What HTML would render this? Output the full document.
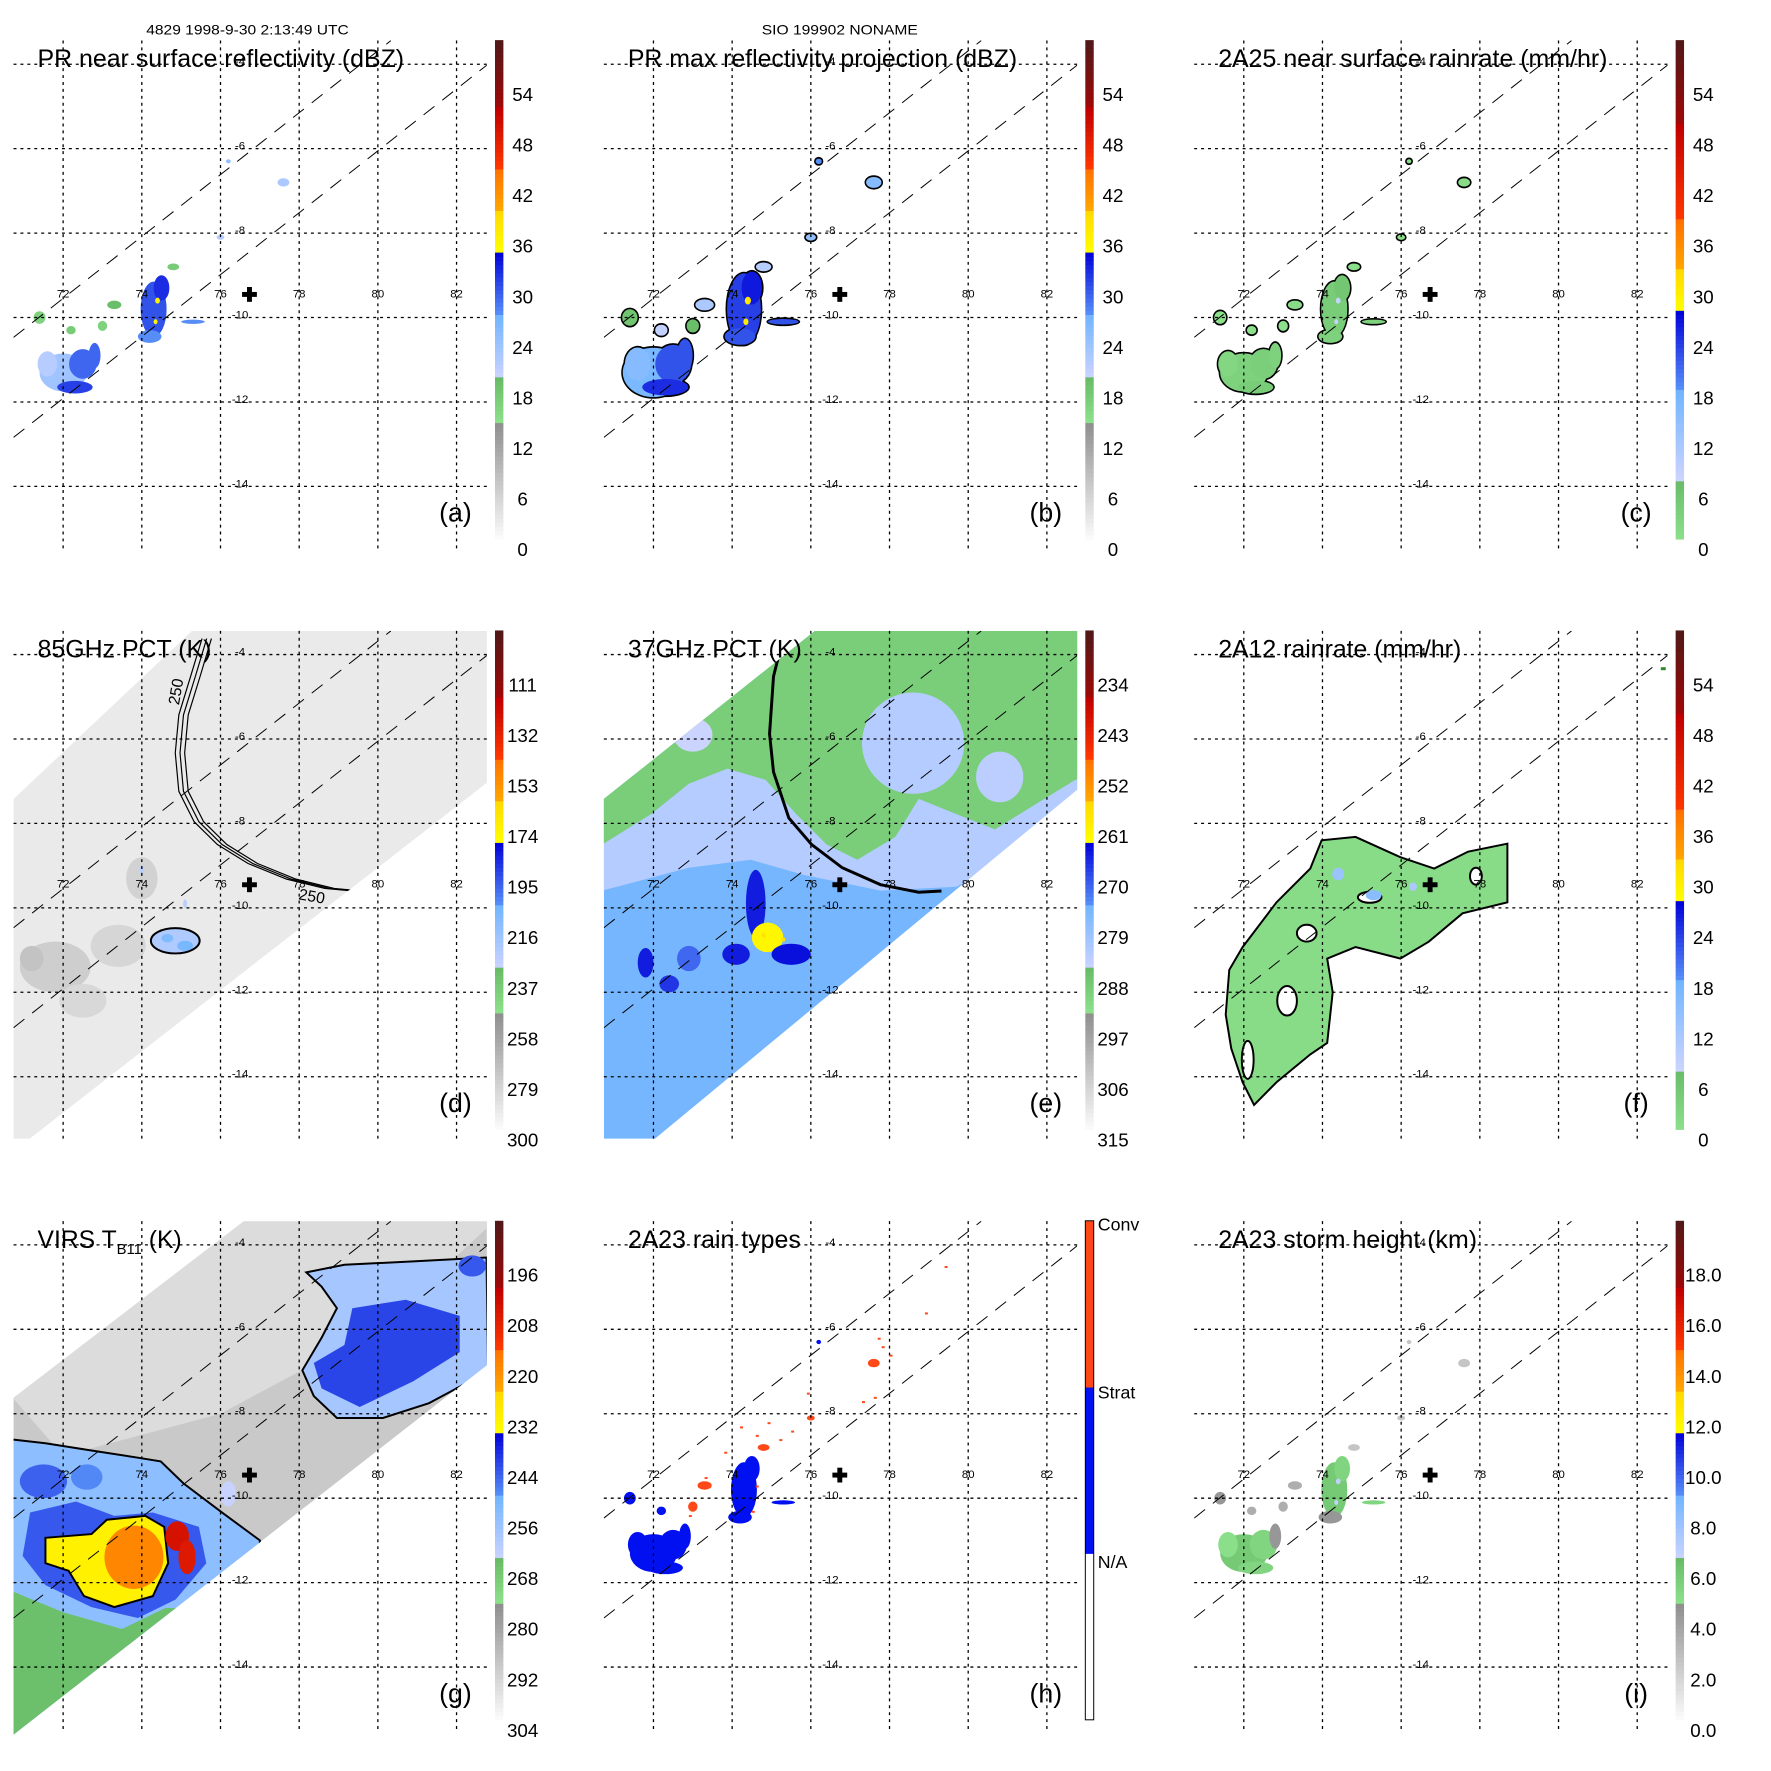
<!DOCTYPE html>
<html><head><meta charset="utf-8">
<style>
html,body{margin:0;padding:0;background:#fff;}
svg{display:block;font-family:"Liberation Sans",Arial,sans-serif;}
</style></head>
<body>
<svg id="fig" xmlns="http://www.w3.org/2000/svg" width="1771" height="1771" viewBox="0 0 1771 1771">
<rect x="0" y="0" width="1771" height="1771" fill="#fff"/>
<g id="root" transform="scale(0.988)">
<text x="148" y="35" font-size="14" textLength="205" lengthAdjust="spacingAndGlyphs">4829 1998-9-30 2:13:49 UTC</text>
<text x="771" y="35" font-size="14" textLength="158" lengthAdjust="spacingAndGlyphs">SIO 199902 NONAME</text>
</g>
</svg>
<script>
// ---------- axis ticks ----------
const lonTicks = [72, 74, 76, 78, 80, 82];
const latTicks = [-4, -6, -8, -10, -12, -14];
// ---------- PR rain cells (lon, lat, radius lon, radius lat) ----------
const prCells = [
 [72.0,-11.3,0.6,0.45],[72.5,-11.1,0.35,0.35],[71.6,-11.1,0.25,0.3],[72.3,-11.65,0.45,0.15],
 [72.8,-10.9,0.15,0.3],[74.3,-9.8,0.33,0.65],[74.5,-9.3,0.2,0.3],[74.2,-10.45,0.3,0.15],
 [74.4,-9.6,0.06,0.07],[74.35,-10.1,0.05,0.06],[73.0,-10.2,0.12,0.12],[73.3,-9.7,0.18,0.1],
 [72.2,-10.3,0.12,0.1],[74.8,-8.8,0.15,0.08],[75.3,-10.1,0.3,0.05],[76.0,-8.1,0.1,0.06],
 [77.6,-6.8,0.15,0.1],[76.2,-6.3,0.06,0.05],[71.4,-10.0,0.15,0.15]];
const valsA = [24,30,22,32,30,31,33,28,37,37,17,20,18,18,28,22,23,25,17];
const valsB = [27,31,26,33,31,32,34,31,38,38,20,23,21,22,31,25,26,28,19];
const valsC = [4,4.5,3,5,4,5,6,4,9,9,1,2,1,1,4,1,2,2,1];
const valsH = [1,1,1,1,1,1,1,1,1,1,2,2,1,2,1,2,2,1,1];
const valsI = [5.5,5,4.5,5,4,5.5,5,4,6.5,6.5,3,3,3,2,5,2,2,2,4];
const hSpecks = [[74.2,-8.3],[74.6,-8.5],[74.9,-8.2],[75.2,-8.6],[75.5,-8.4],[73.8,-8.9],[73.3,-9.5],[72.9,-10.4],
 [77.8,-6.4],[77.7,-6.2],[78.0,-6.6],[77.6,-7.6],[77.3,-7.7],[79.4,-4.5],[78.9,-5.6],[75.9,-7.5],[74.5,-10.3],[74.6,-9.7]];
// ---------- swaths ----------
const swathD = [[70.74,-7.42],[75.27,-3.44],[82.77,-3.44],[82.77,-7.04],[71.15,-15.47],[70.74,-15.47]];
const swathE = [[70.74,-7.42],[76.1,-3.44],[82.77,-3.44],[82.77,-7.2],[72.04,-15.47],[70.74,-15.47]];
const swathG = [[70.74,-7.62],[76.59,-3.44],[82.77,-3.44],[82.77,-6.85],[70.74,-15.6]];
const prUpper = [[70.74,-10.47],[80.33,-3.44]];
const prLower = [[70.74,-12.84],[82.77,-4.02]];
// ---------- 85 GHz ----------
const dBase = 296;
const dPatches = [[71.8,-11.4,0.9,0.6,283],[73.4,-10.9,0.7,0.5,287],[74.0,-9.3,0.4,0.5,285],[72.5,-12.2,0.6,0.4,288],[71.2,-11.2,0.3,0.3,278]];
const dRain = [[74.85,-10.78,0.62,0.3,226],[74.65,-10.72,0.15,0.1,212],[75.1,-10.9,0.2,0.12,210],[74.0,-9.1,0.05,0.1,230],[75.1,-9.9,0.05,0.1,230]];
const dContour = [[75.65,-3.62],[75.36,-4.52],[75.06,-5.43],[74.97,-6.33],[75.06,-7.24],[75.45,-7.96],[76.04,-8.5],[76.82,-8.95],[77.8,-9.32],[78.77,-9.54],[79.36,-9.59]];
// ---------- 37 GHz ----------
const eBase = 276;
const eLavender = [[70.7,-9.59],[72.9,-9.05],[74.47,-8.86],[75.83,-9.22],[77.77,-9.59],[79.7,-9.5],[81.65,-8.5],[83,-7.5],[83,-3],[70.7,-3]];
const eLavT = 284;
const eGreen = [[70.7,-8.5],[71.94,-7.78],[72.9,-7.06],[73.88,-6.7],[74.85,-6.97],[75.63,-7.78],[76.4,-8.5],[77.18,-8.86],[78.15,-8.32],[78.74,-7.42],[79.7,-7.78],[80.68,-8.14],[82.72,-6.97],[83,-6.9],[83,-3],[70.7,-3]];
const eGreenT = 291;
const eHoles = [[78.6,-6.1,1.3,1.2,284],[80.8,-6.9,0.6,0.6,285],[73.0,-5.9,0.5,0.4,287]];
const eCores = [[74.6,-9.9,0.25,0.8,266],[74.9,-10.7,0.4,0.35,262],[75.5,-11.1,0.5,0.25,265],[74.1,-11.1,0.35,0.25,266],
 [71.8,-11.3,0.2,0.35,266],[72.4,-11.8,0.25,0.2,268],[72.9,-11.2,0.3,0.3,272],[74.8,-10.65,0.05,0.05,258],[75.3,-10.75,0.05,0.05,258]];
const eContour = [[75.34,-3.44],[75.05,-4.52],[74.95,-5.88],[75.05,-6.78],[75.44,-7.87],[76.02,-8.5],[76.8,-9.05],[77.77,-9.45],[78.74,-9.63],[79.32,-9.6]];
// ---------- 2A12 ----------
const fRain = [[71.63,-11.47],[71.97,-10.93],[72.83,-9.87],[73.69,-9.07],[73.98,-8.4],[74.84,-8.32],[75.98,-8.8],[76.84,-9.07],[77.7,-8.67],[78.7,-8.48],[78.7,-9.87],[77.56,-10.13],[76.7,-10.8],[75.98,-11.2],[74.84,-10.93],[74.12,-11.2],[74.26,-12],[74.12,-13.2],[73.69,-13.47],[72.83,-14.13],[72.26,-14.67],[71.97,-14.13],[71.68,-13.33],[71.54,-12.53]];
const fRainVal = 2;
const fHoles = [[73.1,-12.2,0.25,0.35],[72.1,-13.6,0.15,0.45],[75.2,-9.75,0.3,0.13],[77.9,-9.25,0.15,0.2],[73.6,-10.6,0.25,0.2]];
const fSpots = [[74.4,-9.2,0.15,0.15,14],[75.3,-9.7,0.2,0.12,16],[76.3,-9.5,0.1,0.1,12]];
// ---------- VIRS ----------
const gBase = 293;
const gLight = [[70.7,-7.6],[76.6,-3.4],[83,-3.4],[80,-6],[76,-8],[72,-9]];
const gLightT = 298;
const gURouter = [[78.18,-4.65],[79.15,-4.47],[80.9,-4.39],[82.76,-4.3],[82.8,-7],[81.3,-7.75],[80.13,-8.1],[78.96,-8.1],[78.37,-7.58],[78.08,-6.97],[78.57,-6.2],[78.96,-5.5],[78.57,-4.99]];
const gURouterT = 260;
const gURcore = [[79.35,-5.5],[80.71,-5.3],[82.08,-5.68],[82.08,-6.54],[80.9,-7.23],[79.54,-7.84],[78.57,-7.4],[78.37,-6.8],[79.15,-6.37]];
const gURcoreT = 243;
const gLLouter = [[70.71,-8.61],[71.55,-8.7],[72.72,-8.87],[73.9,-9.04],[74.48,-9.13],[75.06,-9.65],[76.04,-10.34],[77.0,-11.0],[77,-16],[70.7,-16]];
const gLLouterT = 256;
const gLLgreen = [[70.7,-12.2],[72,-12.7],[73.5,-13.1],[74.6,-12.6],[77,-12.6],[77,-16],[70.7,-16]];
const gLLgreenT = 268;
const gLLblue = [[71.16,-10.34],[72.33,-10.08],[73.3,-10.42],[74.28,-10.34],[75.45,-10.68],[75.64,-11.54],[74.86,-12.4],[73.9,-12.84],[72.72,-12.58],[71.55,-12.06],[70.97,-11.37]];
const gLLblueT = 245;
const gLLyellow = [[71.55,-10.94],[72.72,-10.85],[73.11,-10.51],[74.09,-10.42],[74.57,-10.68],[74.67,-11.54],[74.28,-12.32],[73.3,-12.58],[72.53,-12.32],[72.14,-11.72],[71.55,-11.54]];
const gLLyellowT = 232;
const gBlobs = [[73.8,-11.4,0.75,0.75,219],[74.9,-10.9,0.3,0.35,205],[75.15,-11.4,0.22,0.4,207],[71.5,-9.6,0.6,0.4,246],[72.6,-9.5,0.4,0.3,250],[82.4,-4.5,0.35,0.25,245],[76.2,-9.9,0.2,0.3,266]];
// ---------- colorbar labels ----------
const labA = ['0','6','12','18','24','30','36','42','48','54'];
const labD = ['300','279','258','237','216','195','174','153','132','111'];
const labE = ['315','306','297','288','279','270','261','252','243','234'];
const labG = ['304','292','280','268','256','244','232','220','208','196'];
const labI = ['0.0','2.0','4.0','6.0','8.0','10.0','12.0','14.0','16.0','18.0'];
const labH = ['N/A','Strat','Conv'];

const PAL_A = [[0,0.237,'#fcfcfc','#8c8c8c'],[0.237,0.322,'#8ce08c','#68bc68'],[0.322,0.45,'#ccd4ff','#70b4ff'],[0.45,0.575,'#5890f8','#0000d8'],[0.575,0.658,'#ffff00','#ffd800'],[0.658,0.744,'#ffa800','#ff7000'],[0.744,0.863,'#ff3800','#c00000'],[0.863,1,'#a00808','#501818']];
const PAL_C = [[0,0.119,'#8ce08c','#68bc68'],[0.119,0.3,'#ccd4ff','#70b4ff'],[0.3,0.458,'#5890f8','#0000d8'],[0.458,0.54,'#ffff00','#ffd800'],[0.54,0.64,'#ffa800','#ff7000'],[0.64,0.83,'#ff3800','#c00000'],[0.83,1,'#a00808','#501818']];
const PAL_H = [[0,0.333,'#ffffff','#ffffff'],[0.333,0.667,'#0010f0','#0010f0'],[0.667,1,'#ff4818','#ff4818']];

const NS = 'http://www.w3.org/2000/svg';
const svg = document.getElementById('root');
const PITCH = 597.5;
function X(lon){ return 63.9 + (lon - 72) * 39.82; }
function Y(lat){ return 65 + (-4 - lat) * 42.73; }
function hex(h){ return [parseInt(h.substr(1,2),16),parseInt(h.substr(3,2),16),parseInt(h.substr(5,2),16)]; }
function colorAt(pal, f){
  f = Math.max(0, Math.min(1, f));
  for (const s of pal){
    if (f <= s[1] + 1e-9){
      const t = (s[1] - s[0]) > 0 ? (f - s[0]) / (s[1] - s[0]) : 0;
      const a = hex(s[2]), b = hex(s[3]);
      return 'rgb(' + a.map((v,i)=>Math.round(v + (b[i]-v)*t)).join(',') + ')';
    }
  }
  return pal[pal.length-1][3];
}
function mk(parent, tag, attrs, name){
  const el = document.createElementNS(NS, tag);
  for (const k in attrs) el.setAttribute(k, attrs[k]);
  
  
  parent.appendChild(el);
  return el;
}
function pts(arr){ return arr.map(p => X(p[0]).toFixed(1) + ',' + Y(p[1]).toFixed(1)).join(' '); }
function ell(g, c, fill, name, stroke){
  const e = mk(g, 'ellipse', {cx:X(c[0]), cy:Y(c[1]), rx:c[2]*39.82, ry:c[3]*42.73, fill:fill}, name);
  if (stroke) { e.setAttribute('stroke', stroke); e.setAttribute('stroke-width', '2'); }
  return e;
}

const panels = [
 {id:'a',c:0,r:0,title:'PR near surface reflectivity (dBZ)',tw:371,pal:PAL_A,lo:1.2,hi:60.4,labels:labA},
 {id:'b',c:1,r:0,title:'PR max reflectivity projection (dBZ)',tw:394,pal:PAL_A,lo:1.2,hi:60.4,labels:labA},
 {id:'c',c:2,r:0,title:'2A25 near surface rainrate (mm/hr)',tw:394,pal:PAL_C,lo:1.2,hi:60.4,labels:labA},
 {id:'d',c:0,r:1,title:'85GHz PCT (K)',tw:176,pal:PAL_A,lo:304.2,hi:88.7,labels:labD},
 {id:'e',c:1,r:1,title:'37GHz PCT (K)',tw:176,pal:PAL_A,lo:316.8,hi:224.5,labels:labE},
 {id:'f',c:2,r:1,title:'2A12 rainrate (mm/hr)',tw:246,pal:PAL_C,lo:1.2,hi:60.4,labels:labA},
 {id:'g',c:0,r:2,title:'VIRS T',tw:0,pal:PAL_A,lo:306.4,hi:183.3,labels:labG},
 {id:'h',c:1,r:2,title:'2A23 rain types',tw:175,pal:PAL_H,lo:0,hi:1,labels:labH},
 {id:'i',c:2,r:2,title:'2A23 storm height (km)',tw:262,pal:PAL_A,lo:-0.4,hi:20.1,labels:labI}
];

panels.forEach(p => {
  const g = mk(svg, 'g', {transform:'translate(' + (p.c*PITCH) + ',' + (p.r*PITCH) + ')'}, 'panel-' + p.id);
  const col = v => colorAt(p.pal, (v - p.lo) / (p.hi - p.lo));
  const defs = mk(g, 'defs', {}, 'panel-defs-' + p.id);
  const cp = mk(defs, 'clipPath', {id:'clip-' + p.id}, 'clip-' + p.id);
  const sw = p.id==='d' ? swathD : p.id==='e' ? swathE : p.id==='g' ? swathG : null;
  if (sw) mk(cp, 'polygon', {points:pts(sw)}, 'clip-shape');
  else mk(cp, 'rect', {x:13.7, y:41, width:479, height:514}, 'clip-shape');
  const cp2 = mk(defs, 'clipPath', {id:'clip-pa-' + p.id}, 'clip-plot');
  mk(cp2, 'rect', {x:13.7, y:41, width:479, height:514}, 'clip-shape');
  const data = mk(g, 'g', {'clip-path':'url(#clip-' + p.id + ')'}, 'data-layer-' + p.id);

  if (['a','b','c','i','h'].includes(p.id)){
    const vals = p.id==='a'?valsA:p.id==='b'?valsB:p.id==='c'?valsC:p.id==='i'?valsI:valsH;
    const grow = p.id==='b' ? 1.3 : 1;
    if (p.id==='b' || p.id==='c'){
      prCells.forEach((c,k) => ell(data, [c[0],c[1],c[2]*grow+0.04,c[3]*grow+0.04], '#000', 'rain-outline'));
    }
    prCells.forEach((c,k) => {
      let fill;
      if (p.id==='h') fill = vals[k]===2 ? '#ff4818' : '#0010f0';
      else fill = col(vals[k]);
      ell(data, [c[0],c[1],c[2]*grow,c[3]*grow], fill, 'rain-cell');
    });
    if (p.id==='h') hSpecks.forEach(s => mk(data, 'rect', {x:X(s[0]), y:Y(s[1]), width:3, height:2, fill:'#ff4818'}, 'conv-speck'));
  }
  if (p.id==='d'){
    mk(data, 'polygon', {points:pts(swathD), fill:col(dBase)}, 'swath-85ghz');
    dPatches.forEach(c => ell(data, c, col(c[4]), 'cold-patch'));
    ell(data, dRain[0], col(dRain[0][4]), 'scatter-region', '#000');
    dRain.slice(1).forEach(c => ell(data, c, col(c[4]), 'scatter-core'));
    [-0.12, 0, 0.12].forEach(off => mk(data, 'polyline', {points:pts(dContour.map(q=>[q[0]+off,q[1]])), fill:'none', stroke:'#000', 'stroke-width':1.2}, 'contour-250'));
    const t1 = mk(g, 'text', {x:X(75.0), y:Y(-4.9), 'font-size':16, transform:'rotate(-80 ' + X(75.0) + ' ' + Y(-4.9) + ')', 'text-anchor':'middle'}, 'contour-label');
    t1.textContent = '250';
    const t2 = mk(g, 'text', {x:X(78.3), y:Y(-9.85), 'font-size':16, transform:'rotate(10 ' + X(78.3) + ' ' + Y(-9.85) + ')', 'text-anchor':'middle'}, 'contour-label');
    t2.textContent = '250';
  }
  if (p.id==='e'){
    mk(data, 'polygon', {points:pts(swathE), fill:col(eBase)}, 'swath-37ghz');
    mk(data, 'polygon', {points:pts(eLavender), fill:col(eLavT)}, 'warm-region');
    mk(data, 'polygon', {points:pts(eGreen), fill:col(eGreenT)}, 'warmest-region');
    eHoles.forEach(c => ell(data, c, col(c[4]), 'warm-patch'));
    eCores.forEach(c => ell(data, c, col(c[4]), 'scatter-core'));
    mk(data, 'polyline', {points:pts(eContour), fill:'none', stroke:'#000', 'stroke-width':3}, 'contour-line');
  }
  if (p.id==='f'){
    mk(data, 'polygon', {points:pts(fRain), fill:col(fRainVal), stroke:'#000', 'stroke-width':2}, 'rain-region');
    fHoles.forEach(c => ell(data, c, '#fff', 'rain-hole', '#000'));
    fSpots.forEach(c => ell(data, c, col(c[4]), 'rain-spot'));
    mk(data, 'rect', {x:X(82.6), y:Y(-4.3), width:5, height:3, fill:'#2a8a2a'}, 'rain-speck');
  }
  if (p.id==='g'){
    mk(data, 'polygon', {points:pts(swathG), fill:col(gBase)}, 'swath-virs');
    mk(data, 'polygon', {points:pts(gLight), fill:col(gLightT)}, 'warm-background');
    mk(data, 'polygon', {points:pts(gURouter), fill:col(gURouterT), stroke:'#000', 'stroke-width':2}, 'cloud-ne-outer');
    mk(data, 'polygon', {points:pts(gURcore), fill:col(gURcoreT)}, 'cloud-ne-core');
    mk(data, 'polygon', {points:pts(gLLouter), fill:col(gLLouterT), stroke:'#000', 'stroke-width':2}, 'cloud-sw-outer');
    mk(data, 'polygon', {points:pts(gLLgreen), fill:col(gLLgreenT)}, 'cloud-sw-edge');
    mk(data, 'polygon', {points:pts(gLLblue), fill:col(gLLblueT)}, 'cloud-sw-ring');
    mk(data, 'polygon', {points:pts(gLLyellow), fill:col(gLLyellowT), stroke:'#000', 'stroke-width':2}, 'cloud-sw-core');
    gBlobs.forEach(c => ell(data, c, col(c[4]), 'cloud-blob'));
  }
  lonTicks.forEach(l => mk(g, 'line', {x1:X(l), x2:X(l), y1:41, y2:555, stroke:'#000', 'stroke-width':1.3, 'stroke-dasharray':'3,4'}, 'grid-lon'));
  latTicks.forEach(l => mk(g, 'line', {x1:13.7, x2:492.8, y1:Y(l), y2:Y(l), stroke:'#000', 'stroke-width':1.3, 'stroke-dasharray':'3,4'}, 'grid-lat'));
  [prUpper, prLower].forEach(ln => {
    mk(g, 'polyline', {points:pts(ln), fill:'none', stroke:'#000', 'stroke-width':1, 'stroke-dasharray':'14,10', 'clip-path':'url(#clip-pa-' + p.id + ')'}, 'pr-swath-edge');
  });
  lonTicks.forEach(l => { const t = mk(g, 'text', {x:X(l), y:301, 'font-size':11.5, 'text-anchor':'middle'}, 'lon-label'); t.textContent = l; });
  latTicks.forEach(l => { const t = mk(g, 'text', {x:243, y:Y(l)+1, 'font-size':11.5, 'text-anchor':'middle'}, 'lat-label'); t.textContent = l; });
  mk(g, 'rect', {x:245, y:295.5, width:15, height:5, fill:'#000'}, 'storm-center-h');
  mk(g, 'rect', {x:250, y:290.5, width:5, height:15, fill:'#000'}, 'storm-center-v');
  const tt = mk(g, 'text', {x:38, y:68, 'font-size':25}, 'panel-title');
  if (p.tw) { tt.setAttribute('textLength', p.tw); tt.setAttribute('lengthAdjust', 'spacingAndGlyphs'); tt.textContent = p.title; }
  else {
    tt.textContent = p.title;
    const s = mk(tt, 'tspan', {'font-size':15, dy:6}, 'title-subscript'); s.textContent = 'B11';
    const s2 = mk(tt, 'tspan', {dy:-6}, 'title-unit'); s2.textContent = ' (K)';
  }
  const lt = mk(g, 'text', {x:461, y:528, 'font-size':27, 'text-anchor':'middle'}, 'panel-letter');
  lt.textContent = '(' + p.id + ')';
  const cb = mk(g, 'g', {}, 'colorbar-' + p.id);
  const top = 40.6, bot = 545.7, n = 120, hh = (bot - top) / n;
  for (let k = 0; k < n; k++){
    const f = (k + 0.5) / n;
    mk(cb, 'rect', {x:501, y:bot - (k+1)*hh, width:8.5, height:hh + 0.4, fill:colorAt(p.pal, f)}, 'colorbar-step');
  }
  if (p.id==='h'){
    mk(cb, 'rect', {x:501, y:top, width:8.5, height:bot-top, fill:'none', stroke:'#000', 'stroke-width':1}, 'colorbar-border');
    const ys = [385, 213.7, 43.4];
    labH.forEach((s,k) => { const t = mk(cb, 'text', {x:513.6, y:ys[k]+7, 'font-size':18}, 'colorbar-label'); t.textContent = s; });
  } else {
    p.labels.forEach((s,k) => { const t = mk(cb, 'text', {x:529, y:556 - k*51.2 + 7, 'font-size':19, 'text-anchor':'middle'}, 'colorbar-label'); t.textContent = s; });
  }
});
</script>
</body></html>
